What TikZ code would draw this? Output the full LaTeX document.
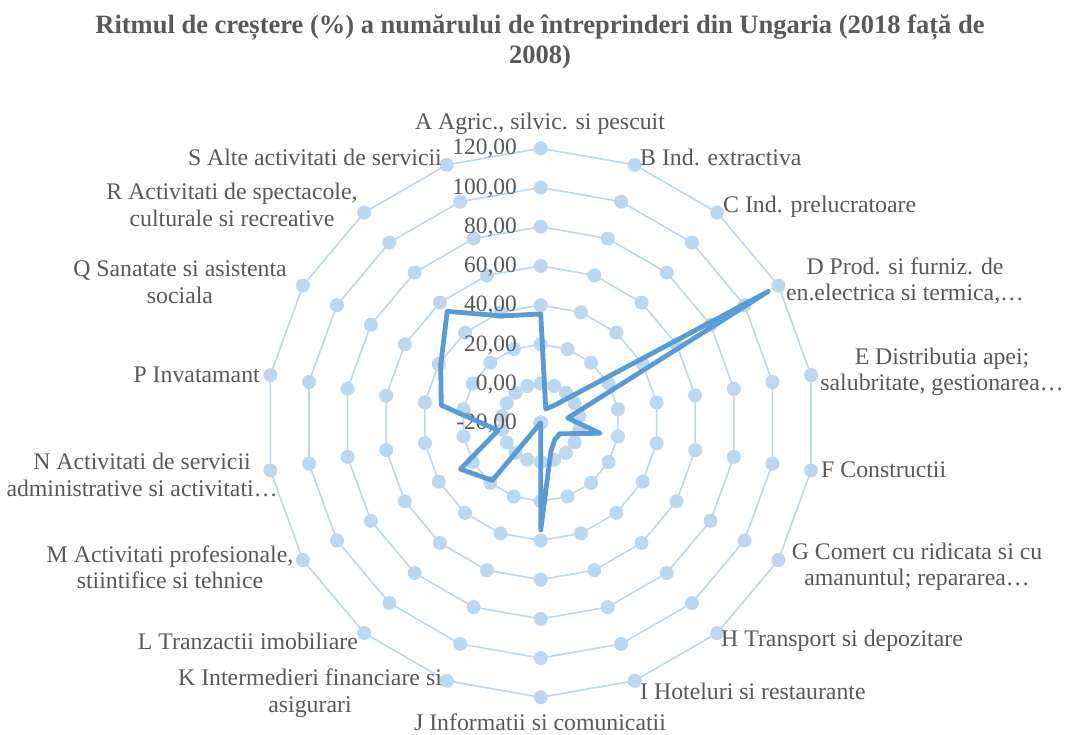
\documentclass[tikz,border=0pt]{standalone}
\usepackage{fontspec}
\setmainfont{Liberation Serif}
\definecolor{txt}{HTML}{595959}
\definecolor{ringc}{HTML}{BDD7EE}
\definecolor{serc}{HTML}{5B9BD5}
\begin{document}
\begin{tikzpicture}[x=1pt,y=-1pt,
  ringline/.style={draw=ringc,line width=1.6pt},
  ringdot/.style={fill=ringc},
  series/.style={draw=serc,line width=4.8pt,line join=round},
  lab/.style={text=txt,inner sep=0pt,font=\fontsize{23.8}{26.5}\selectfont},
  ticklab/.style={text=txt,inner sep=0pt,anchor=east,font=\fontsize{23.4}{26.5}\selectfont},
  ttl/.style={text=txt,inner sep=0pt,align=center,font=\bfseries\fontsize{26.5}{30}\selectfont}]
\useasboundingbox (0,0) rectangle (1065,735);
\fill[white] (0,0) rectangle (1065,735);
\node[ttl] (title) at (540,42) {Ritmul de creștere (\%) a numărului de întreprinderi din Ungaria (2018 față de\\2008)};
\begin{scope}[shift={(540.7,422.8)}]
  % rings
  \foreach \k in {1,...,7}{
    \draw[ringline] (-90:{\k*39.214}) \foreach \i in {1,...,17}{ -- ({-90+20*\i}:{\k*39.214})} -- cycle;
  }
  \foreach \k in {0,...,7}{
    \foreach \i in {0,...,17}{
      \fill[ringdot] ({-90+20*\i}:{\k*39.214}) circle (7pt);
    }
  }
  \coordinate (ctr) at (0,0);
\end{scope}
% tick labels
\node[ticklab] (t0) at (517,{423.5-0*39.214}) {-20,00};
\node[ticklab] (t1) at (517,{423.5-1*39.214}) {0,00};
\node[ticklab] (t2) at (517,{423.5-2*39.214}) {20,00};
\node[ticklab] (t3) at (517,{423.5-3*39.214}) {40,00};
\node[ticklab] (t4) at (517,{423.5-4*39.214}) {60,00};
\node[ticklab] (t5) at (517,{423.5-5*39.214}) {80,00};
\node[ticklab] (t6) at (517,{423.5-6*39.214}) {100,00};
\node[ticklab] (t7) at (517,{423.5-7*39.214}) {120,00};
% data
\begin{scope}[shift={(540.7,422.8)}]
  \foreach \v [count=\i from 0] in {35.5,-12.5,-7.8,114,-6,10.7,-8.8,-8.8,-4.7,34.7,-20,18.4,27.2,2.1,31.5,38.9,54.2,38}{
    \coordinate (d\i) at ({-90+20*\i}:{(\v+20)*1.9607});
  }
\end{scope}
\draw[series] (d0) -- (d1) -- (d2) -- (d3) -- (d4) -- (d5) -- (d6) -- (d7) -- (d8) -- (d9) -- (d10) -- (d11) -- (d12) -- (d13) -- (d14) -- (d15) -- (d16) -- (d17) -- cycle;
% category labels
\node[lab] (lA) at (540,124) {A Agric., silvic. si pescuit};
\node[lab,anchor=west] (lB) at (640,157) {B Ind. extractiva};
\node[lab,anchor=west] (lC) at (723,207) {C Ind. prelucratoare};
\node[lab,align=center] (lD) at (905,281) {D Prod. si furniz. de\\en.electrica si termica,…};
\node[lab,align=center] (lE) at (942,372) {E Distributia apei;\\salubritate, gestionarea…};
\node[lab,anchor=west] (lF) at (821,470) {F Constructii};
\node[lab,align=center] (lG) at (917,567) {G Comert cu ridicata si cu\\amanuntul; repararea…};
\node[lab,anchor=west] (lH) at (721,641) {H Transport si depozitare};
\node[lab,anchor=west] (lI) at (640,691) {I Hoteluri si restaurante};
\node[lab] (lJ) at (540,722) {J Informatii si comunicatii};
\node[lab,align=center] (lK) at (310,693) {K Intermedieri financiare si\\asigurari};
\node[lab,anchor=east] (lL) at (358,641) {L Tranzactii imobiliare};
\node[lab,align=center] (lM) at (170,567) {M Activitati profesionale,\\stiintifice si tehnice};
\node[lab,align=center] (lN) at (142,475) {N Activitati de servicii\\administrative si activitati…};
\node[lab,anchor=east] (lP) at (260,375) {P Invatamant};
\node[lab,align=center] (lQ) at (180,282) {Q Sanatate si asistenta\\sociala};
\node[lab,align=center] (lR) at (232,205) {R Activitati de spectacole,\\culturale si recreative};
\node[lab,anchor=east] (lS) at (442,157) {S Alte activitati de servicii};
\end{tikzpicture}
\end{document}
